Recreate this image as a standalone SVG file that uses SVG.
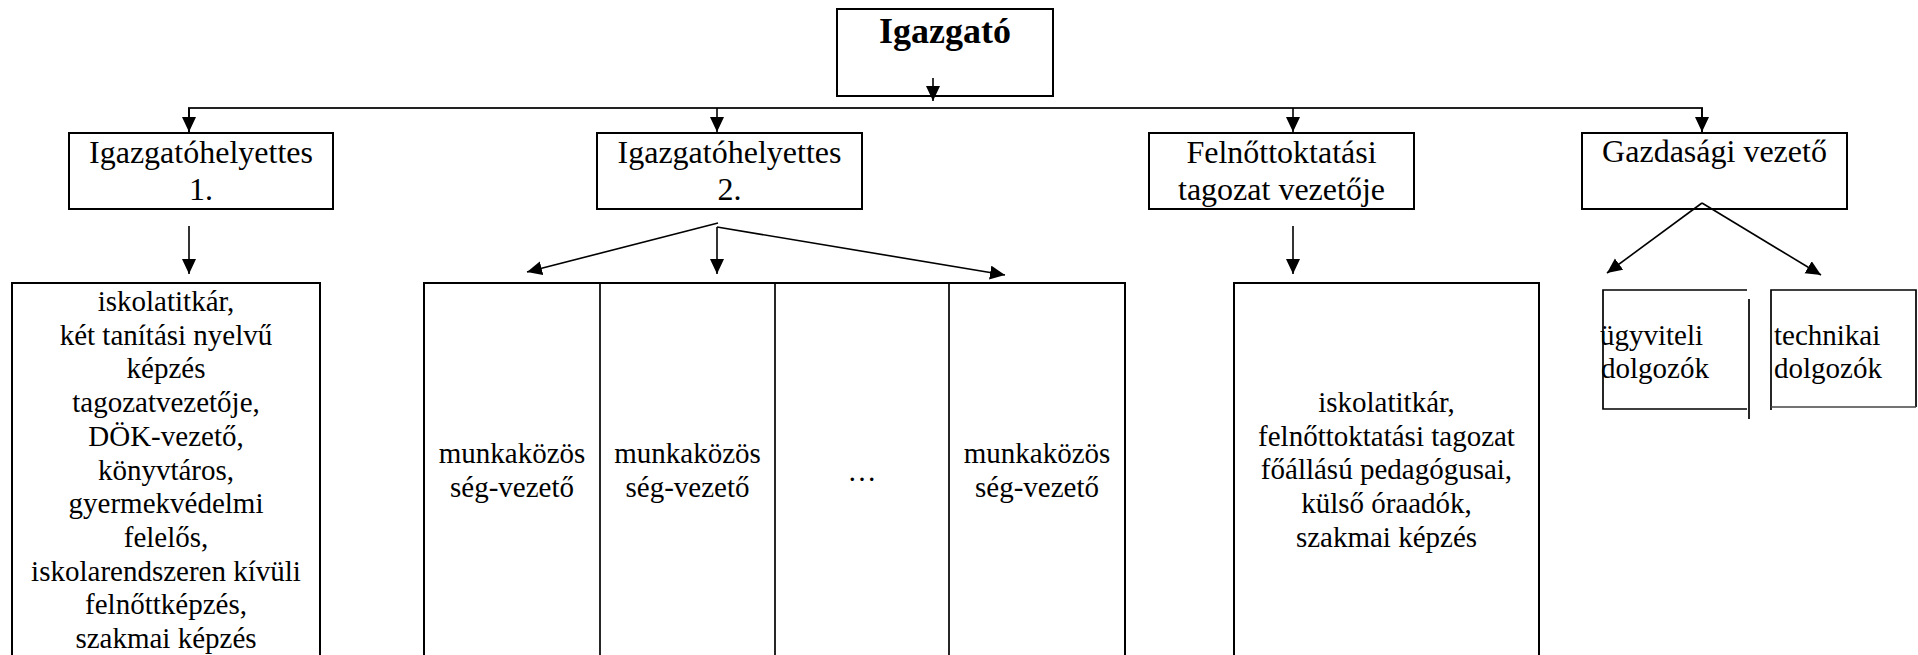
<svg xmlns="http://www.w3.org/2000/svg" width="1918" height="655" viewBox="0 0 1918 655">
<style>
  .box { fill: #fff; stroke: #000; stroke-width: 2; }
  .div { fill: none; stroke: #000; stroke-width: 1.7; }
  .t { font-family: "Liberation Serif", "Times New Roman", serif; fill: #000; }
  .l2 { font-size: 32px; text-anchor: middle; }
  .l3 { font-size: 29px; text-anchor: middle; }
  .l3s { font-size: 29px; text-anchor: start; }
  .top { font-size: 36px; font-weight: bold; text-anchor: middle; }
  .c { fill: none; stroke: #000; stroke-width: 1.6; }
  .bus { fill: none; stroke: #222; stroke-width: 2; }
</style>
<defs>
  <marker id="ah" markerUnits="userSpaceOnUse" markerWidth="16" markerHeight="15" refX="15" refY="7" orient="auto" viewBox="0 0 16 15">
    <path d="M0,0 L15,7 L0,14 Z" fill="#000"/>
  </marker>
</defs>
<rect width="1918" height="655" fill="#fff"/>

<g id="n-igazgato">
  <rect class="box" x="837" y="9" width="216" height="87"/>
  <text class="t top" x="945" y="43">Igazgató</text>
</g>

<g id="n-ih1">
  <rect class="box" x="69" y="133" width="264" height="76"/>
  <text class="t l2" x="201" y="163">Igazgatóhelyettes</text>
  <text class="t l2" x="201" y="200">1.</text>
</g>
<g id="n-ih2">
  <rect class="box" x="597" y="133" width="265" height="76"/>
  <text class="t l2" x="729.5" y="163">Igazgatóhelyettes</text>
  <text class="t l2" x="729.5" y="200">2.</text>
</g>
<g id="n-felnott">
  <rect class="box" x="1149" y="133" width="265" height="76"/>
  <text class="t l2" x="1281.5" y="163">Felnőttoktatási</text>
  <text class="t l2" x="1281.5" y="200">tagozat vezetője</text>
</g>
<g id="n-gazd">
  <rect class="box" x="1582" y="133" width="265" height="76"/>
  <text class="t l2" x="1714.5" y="162">Gazdasági vezető</text>
</g>

<g id="n-ih1-staff">
  <rect class="box" x="12" y="283" width="308" height="420"/>
  <text class="t l3" x="166" y="311">iskolatitkár,</text>
  <text class="t l3" x="166" y="344.7">két tanítási nyelvű</text>
  <text class="t l3" x="166" y="378.4">képzés</text>
  <text class="t l3" x="166" y="412.1">tagozatvezetője,</text>
  <text class="t l3" x="166" y="445.8">DÖK-vezető,</text>
  <text class="t l3" x="166" y="479.5">könyvtáros,</text>
  <text class="t l3" x="166" y="513.2">gyermekvédelmi</text>
  <text class="t l3" x="166" y="546.9">felelős,</text>
  <text class="t l3" x="166" y="580.6">iskolarendszeren kívüli</text>
  <text class="t l3" x="166" y="614.3">felnőttképzés,</text>
  <text class="t l3" x="166" y="648">szakmai képzés</text>
</g>

<g id="n-munkakozosseg">
  <rect class="box" x="424" y="283" width="701" height="420"/>
  <line class="div" x1="600" y1="283" x2="600" y2="703"/>
  <line class="div" x1="775" y1="283" x2="775" y2="703"/>
  <line class="div" x1="949" y1="283" x2="949" y2="703"/>
  <text class="t l3" x="512" y="463">munkaközös</text>
  <text class="t l3" x="512" y="496.5">ség-vezető</text>
  <text class="t l3" x="687.5" y="463">munkaközös</text>
  <text class="t l3" x="687.5" y="496.5">ség-vezető</text>
  <text class="t l3" x="862" y="481">…</text>
  <text class="t l3" x="1037" y="463">munkaközös</text>
  <text class="t l3" x="1037" y="496.5">ség-vezető</text>
</g>

<g id="n-felnott-staff">
  <rect class="box" x="1234" y="283" width="305" height="420"/>
  <text class="t l3" x="1386.5" y="412">iskolatitkár,</text>
  <text class="t l3" x="1386.5" y="445.7">felnőttoktatási tagozat</text>
  <text class="t l3" x="1386.5" y="479.4">főállású pedagógusai,</text>
  <text class="t l3" x="1386.5" y="513.1">külső óraadók,</text>
  <text class="t l3" x="1386.5" y="546.8">szakmai képzés</text>
</g>

<g id="n-ugyviteli">
  <path class="div" d="M1747,290 H1603 V409 H1747" stroke-width="2"/>
  <line class="div" x1="1749" y1="299" x2="1749" y2="419" stroke-width="2"/>
  <text class="t l3s" x="1600" y="345">ügyviteli</text>
  <text class="t l3s" x="1601" y="378">dolgozók</text>
</g>
<g id="n-technikai">
  <path class="div" d="M1771,410 V290 H1916 V407" stroke-width="2"/>
  <line x1="1771" y1="407" x2="1916" y2="407" stroke="#444" stroke-width="1.5"/>
  <text class="t l3s" x="1774" y="345">technikai</text>
  <text class="t l3s" x="1774" y="378">dolgozók</text>
</g>

<g id="connectors">
  <line class="c" x1="933" y1="78" x2="933" y2="101" marker-end="url(#ah)"/>
  <path class="bus" d="M189,132 V108 H1702 V132"/>
  <line class="c" x1="189" y1="108" x2="189" y2="132" marker-end="url(#ah)"/>
  <line class="c" x1="717" y1="108" x2="717" y2="132" marker-end="url(#ah)"/>
  <line class="c" x1="1293" y1="108" x2="1293" y2="132" marker-end="url(#ah)"/>
  <line class="c" x1="1702" y1="108" x2="1702" y2="132" marker-end="url(#ah)"/>

  <line class="c" x1="189" y1="226" x2="189" y2="274" marker-end="url(#ah)"/>

  <line class="c" x1="718" y1="223" x2="527" y2="272" marker-end="url(#ah)"/>
  <line class="c" x1="717" y1="227" x2="717" y2="274" marker-end="url(#ah)"/>
  <line class="c" x1="717" y1="227" x2="1005" y2="275" marker-end="url(#ah)"/>

  <line class="c" x1="1293" y1="226" x2="1293" y2="274" marker-end="url(#ah)"/>

  <line class="c" x1="1702" y1="203" x2="1607" y2="273" marker-end="url(#ah)"/>
  <line class="c" x1="1702" y1="203" x2="1821" y2="275" marker-end="url(#ah)"/>
</g>
</svg>
